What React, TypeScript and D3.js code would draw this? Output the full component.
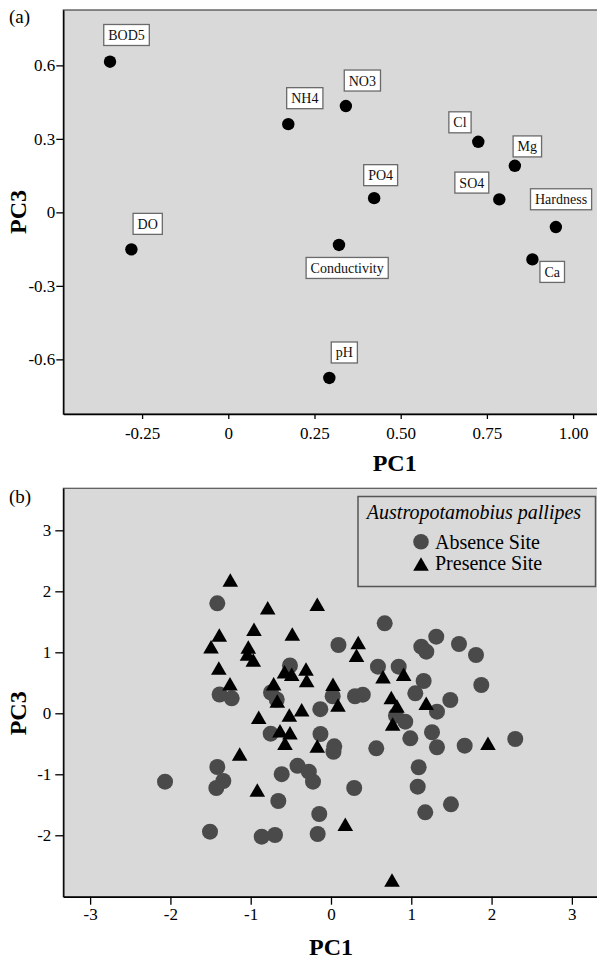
import { useEffect, useRef } from 'react';
import * as d3 from 'd3';

// (a) variable loadings on PC1 / PC3
const variables = ['BOD5', 'NH4', 'NO3', 'Cl', 'Mg', 'PO4', 'SO4', 'Hardness', 'DO', 'Conductivity', 'Ca', 'pH'];
const loadingPC1 = [-0.343, 0.174, 0.341, 0.725, 0.831, 0.423, 0.786, 0.950, -0.281, 0.321, 0.882, 0.293];
const loadingPC3 = [0.615, 0.360, 0.434, 0.288, 0.190, 0.058, 0.053, -0.060, -0.151, -0.133, -0.192, -0.676];

// (b) site scores, absence sites
const absencePC1 = [
  -1.416, -0.511, -1.387, -1.237, -0.747, -0.676, -0.133, 0.021, 0.299, 0.396,
  0.093, 0.669, 1.125, 1.187, 1.311, 1.594, 1.806, 0.585, 0.843, 1.154,
  1.050, 1.486, 1.872, 1.320, 0.809, 0.925, -0.751, -0.131, 0.041, 0.031,
  0.564, 0.988, 1.258, 1.320, 1.665, 2.295, -1.416, -1.341, -1.428, -2.067,
  -0.614, -0.417, -0.276, -0.224, -0.656, -0.146, -1.507, -0.863, -0.697, -0.166,
  0.289, 1.092, 1.080, 1.174, 1.494,
];
const absencePC3 = [
  1.803, 0.784, 0.308, 0.246, 0.341, 0.226, 0.067, 0.279, 0.279, 0.305,
  1.120, 1.475, 1.092, 1.010, 1.256, 1.136, 0.956, 0.764, 0.764, 0.530,
  0.328, 0.218, 0.464, 0.026, -0.036, -0.138, -0.334, -0.339, -0.541, -0.630,
  -0.574, -0.410, -0.311, -0.557, -0.531, -0.421, -0.880, -1.110, -1.225, -1.121,
  -0.998, -0.861, -0.957, -1.121, -1.438, -1.651, -1.941, -2.023, -1.995, -1.979,
  -1.225, -0.885, -1.203, -1.623, -1.492,
];

// (b) site scores, presence sites
const presencePC1 = [
  -1.254, -0.788, -0.171, -0.959, -1.391, -0.482, -1.494, -1.030, -1.040, -0.968,
  -1.397, -0.579, -0.489, -0.311, -0.303, -1.258, -0.714, -0.669, -0.519, -0.365,
  0.025, 0.087, -0.900, -0.635, -0.511, -0.573, -0.171, -1.137, -0.918, 0.339,
  0.318, 0.648, 0.905, 0.751, 0.822, 0.768, 1.186, 1.955, 0.178, 0.760,
];
const presencePC3 = [
  2.185, 1.731, 1.787, 1.377, 1.284, 1.300, 1.092, 1.087, 0.972, 0.874,
  0.743, 0.682, 0.641, 0.726, 0.538, 0.485, 0.485, 0.202, -0.028, 0.059,
  0.475, 0.136, -0.066, -0.285, -0.318, -0.492, -0.536, -0.667, -1.257, 1.161,
  0.951, 0.600, 0.639, 0.259, 0.120, -0.175, 0.164, -0.492, -1.820, -2.733,
];

const xTicksA = [-0.25, 0, 0.25, 0.5, 0.75, 1.0];
const xTickLabelsA = ['-0.25', '0', '0.25', '0.50', '0.75', '1.00'];
const yTicksA = [-0.6, -0.3, 0, 0.3, 0.6];
const yTickLabelsA = ['-0.6', '-0.3', '0', '0.3', '0.6'];
const xTicksB = [-3, -2, -1, 0, 1, 2, 3];
const yTicksB = [-2, -1, 0, 1, 2, 3];

const speciesName = 'Austropotamobius pallipes';
const seriesLabels = ['Absence Site', 'Presence Site'];

// label box centre, relative to its point (px)
const labelOffset: Record<string, [number, number]> = {
  BOD5: [16.5, -26.7],
  NH4: [16.5, -26],
  NO3: [16.5, -25.5],
  Cl: [-18.3, -19.5],
  Mg: [12.5, -19.4],
  PO4: [6.5, -23],
  SO4: [-27.5, -16.8],
  Hardness: [5.2, -27.8],
  DO: [16.3, -25.5],
  Conductivity: [8.2, 23],
  Ca: [19.8, 12.5],
  pH: [15, -25.5],
};

const FONT = '"Liberation Serif", "Times New Roman", Times, serif';
const BG = '#d9d9d9';

export default function App() {
  const svgRef = useRef<SVGSVGElement>(null);

  useEffect(() => {
    if (!svgRef.current) return;
    const svg = d3.select(svgRef.current);
    svg.selectAll('*').remove();

    const width = 597;
    const height = 961;
    svg.attr('width', width).attr('height', height).attr('viewBox', `0 0 ${width} ${height}`);

    const styleAxis = (g: any, size: number) => {
      g.selectAll('text')
        .style('font-family', FONT)
        .style('font-size', `${size}px`)
        .attr('fill', '#000');
      g.selectAll('line').attr('stroke', '#000').attr('stroke-width', 1.3);
      g.select('.domain').attr('stroke', '#000').attr('stroke-width', 1.4);
    };

    // ---------- panel (a) ----------
    const a = { left: 63.3, top: 10, bottom: 414 };
    const xA = d3.scaleLinear().domain([-0.4785, 1.0693]).range([a.left, width]);
    const yA = d3.scaleLinear().domain([-0.823, 0.826]).range([a.bottom, a.top]);

    svg.append('rect')
      .attr('x', a.left)
      .attr('y', a.top)
      .attr('width', width - a.left + 10)
      .attr('height', a.bottom - a.top)
      .attr('fill', BG)
      .attr('stroke', '#444')
      .attr('stroke-width', 1.2);

    const xAxisA = svg.append('g')
      .attr('transform', `translate(0,${a.bottom})`)
      .call(d3.axisBottom(xA)
        .tickValues(xTicksA)
        .tickFormat((_d, i) => xTickLabelsA[i])
        .tickSize(5)
        .tickSizeOuter(0)
        .tickPadding(8));
    styleAxis(xAxisA, 17);

    const yAxisA = svg.append('g')
      .attr('transform', `translate(${a.left},0)`)
      .call(d3.axisLeft(yA)
        .tickValues(yTicksA)
        .tickFormat((_d, i) => yTickLabelsA[i])
        .tickSize(7)
        .tickSizeOuter(0)
        .tickPadding(1));
    styleAxis(yAxisA, 17);

    // loadings
    const loadings = variables.map((name, i) => ({ name, x: loadingPC1[i], y: loadingPC3[i] }));

    svg.append('g')
      .selectAll('circle')
      .data(loadings)
      .enter()
      .append('circle')
      .attr('cx', d => xA(d.x))
      .attr('cy', d => yA(d.y))
      .attr('r', 6.2)
      .attr('fill', '#000');

    const labels = svg.append('g');
    loadings.forEach(d => {
      const [dx, dy] = labelOffset[d.name];
      const cx = xA(d.x) + dx;
      const cy = yA(d.y) + dy;
      const lg = labels.append('g');
      const txt = lg.append('text')
        .attr('x', cx)
        .attr('y', cy + 5)
        .attr('text-anchor', 'middle')
        .style('font-family', FONT)
        .style('font-size', '14px')
        .attr('fill', '#111')
        .text(d.name);
      const tw = (txt.node() as SVGTextElement).getComputedTextLength();
      lg.insert('rect', 'text')
        .attr('x', cx - tw / 2 - 4.5)
        .attr('y', cy - 10.5)
        .attr('width', tw + 9)
        .attr('height', 21)
        .attr('fill', '#fff')
        .attr('stroke', '#6a6a6a')
        .attr('stroke-width', 1.3);
    });

    svg.append('text')
      .attr('x', a.left + (xA(1.0) - a.left) * 0 + xA(0.299))
      .attr('y', 471)
      .attr('text-anchor', 'middle')
      .style('font-family', FONT)
      .style('font-size', '24px')
      .style('font-weight', '700')
      .text('PC1');

    svg.append('text')
      .attr('transform', `translate(26,${(a.top + a.bottom) / 2}) rotate(-90)`)
      .attr('text-anchor', 'middle')
      .style('font-family', FONT)
      .style('font-size', '24px')
      .style('font-weight', '700')
      .text('PC3');

    svg.append('text')
      .attr('x', 9)
      .attr('y', 23)
      .style('font-family', FONT)
      .style('font-size', '19px')
      .text('(a)');

    // ---------- panel (b) ----------
    const b = { left: 63.3, top: 488.3, bottom: 896.7 };
    const xB = d3.scaleLinear().domain([-3.334, 3.313]).range([b.left, width]);
    const yB = d3.scaleLinear().domain([-3.007, 3.689]).range([b.bottom, b.top]);

    svg.append('rect')
      .attr('x', b.left)
      .attr('y', b.top)
      .attr('width', width - b.left + 10)
      .attr('height', b.bottom - b.top)
      .attr('fill', BG)
      .attr('stroke', '#555')
      .attr('stroke-width', 1.2);

    const xAxisB = svg.append('g')
      .attr('transform', `translate(0,${b.bottom})`)
      .call(d3.axisBottom(xB)
        .tickValues(xTicksB)
        .tickFormat(d => `${d}`)
        .tickSize(8)
        .tickSizeOuter(0)
        .tickPadding(3));
    styleAxis(xAxisB, 17);

    const yAxisB = svg.append('g')
      .attr('transform', `translate(${b.left},0)`)
      .call(d3.axisLeft(yB)
        .tickValues(yTicksB)
        .tickFormat(d => `${d}`)
        .tickSize(8)
        .tickSizeOuter(0)
        .tickPadding(4));
    styleAxis(yAxisB, 17);

    const absence = absencePC1.map((x, i) => ({ x, y: absencePC3[i] }));
    const presence = presencePC1.map((x, i) => ({ x, y: presencePC3[i] }));

    svg.append('g')
      .selectAll('circle')
      .data(absence)
      .enter()
      .append('circle')
      .attr('cx', d => xB(d.x))
      .attr('cy', d => yB(d.y))
      .attr('r', 8)
      .attr('fill', '#4a4a4a');

    const triSize = 105;
    const triShift = Math.sqrt(triSize / (Math.sqrt(3) * 3)) / 2;
    const tri = d3.symbol().type(d3.symbolTriangle).size(triSize);

    svg.append('g')
      .selectAll('path')
      .data(presence)
      .enter()
      .append('path')
      .attr('d', tri as any)
      .attr('transform', d => `translate(${xB(d.x)},${yB(d.y) + triShift})`)
      .attr('fill', '#000');

    // legend
    const legend = svg.append('g');
    legend.append('rect')
      .attr('x', 358)
      .attr('y', 496.5)
      .attr('width', 237.5)
      .attr('height', 90)
      .attr('fill', BG)
      .attr('stroke', '#555')
      .attr('stroke-width', 1.5);

    legend.append('text')
      .attr('x', 474)
      .attr('y', 519)
      .attr('text-anchor', 'middle')
      .style('font-family', FONT)
      .style('font-size', '20px')
      .style('font-style', 'italic')
      .text(speciesName);

    legend.append('circle')
      .attr('cx', 421)
      .attr('cy', 541.7)
      .attr('r', 7.8)
      .attr('fill', '#4a4a4a');

    legend.append('path')
      .attr('d', tri as any)
      .attr('transform', `translate(421,${564 + triShift})`)
      .attr('fill', '#000');

    seriesLabels.forEach((label, i) => {
      legend.append('text')
        .attr('x', 435)
        .attr('y', 548.5 + i * 21)
        .style('font-family', FONT)
        .style('font-size', '20px')
        .text(label);
    });

    svg.append('text')
      .attr('x', xB(0))
      .attr('y', 955)
      .attr('text-anchor', 'middle')
      .style('font-family', FONT)
      .style('font-size', '24px')
      .style('font-weight', '700')
      .text('PC1');

    svg.append('text')
      .attr('transform', `translate(26,${yB(0)}) rotate(-90)`)
      .attr('text-anchor', 'middle')
      .style('font-family', FONT)
      .style('font-size', '24px')
      .style('font-weight', '700')
      .text('PC3');

    svg.append('text')
      .attr('x', 9)
      .attr('y', 503)
      .style('font-family', FONT)
      .style('font-size', '19px')
      .text('(b)');
  }, []);

  return (
    <svg
      ref={svgRef}
      style={{ position: 'absolute', left: 0, top: 0, background: '#fff' }}
    />
  );
}
